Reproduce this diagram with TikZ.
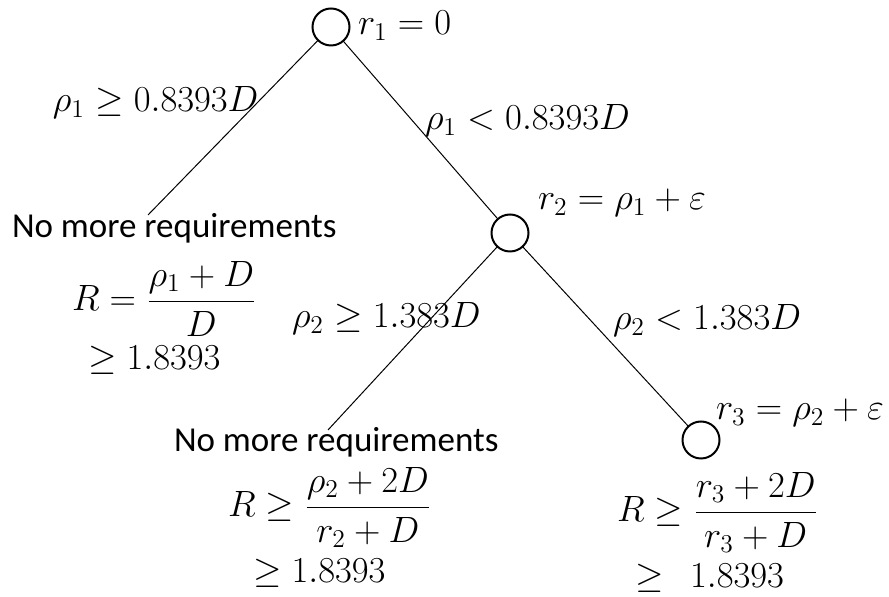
\RequirePackage{fix-cm}
\documentclass[tikz,border=0pt]{standalone}
\usepackage{fontspec}
\setmainfont{Carlito}
\begin{document}
\begin{tikzpicture}[x=0.5pt,y=-0.5pt,
  every node/.style={inner sep=0pt, outer sep=0pt},
  mth/.style={anchor=base west, font=\fontsize{18.3}{22}\selectfont},
  txt/.style={anchor=base west, font=\fontsize{17.5}{21}\selectfont},
  state/.style={circle, draw, line width=1pt, minimum size=18.5pt},
  branch/.style={line width=0.5pt}]
\useasboundingbox (0,0) rectangle (889,597);
% decision nodes
\node[state] (c1) at (331,27) {};
\node[state] (c2) at (510,233) {};
\node[state] (c3) at (701,440) {};
\coordinate (e1) at (148,215);
\coordinate (e2) at (328,430);
% branches
\draw[branch] (c1) -- (e1);
\draw[branch] (c1) -- (c2);
\draw[branch] (c2) -- (e2);
\draw[branch] (c2) -- (c3);
% node labels
\node[mth] (r1) at (358,35) {$r_1 = 0$};
\node[mth] (r2) at (538,210) {$r_2 = \rho_1 + \varepsilon$};
\node[mth] (r3) at (716,420) {$r_3 = \rho_2 + \varepsilon$};
% branch labels
\node[mth] (l1) at (53,112) {$\rho_1 \geq 0.8393D$};
\node[mth] (l2) at (425,130) {$\rho_1 < 0.8393D$};
\node[mth] (l3) at (292,328) {$\rho_2 \geq 1.383D$};
\node[mth] (l4) at (613,330) {$\rho_2 < 1.383D$};
% leaf 1
\node[txt] (t1) at (12,238) {No more requirements};
\node[mth] (f1) at (72,311) {$\displaystyle R = \frac{\rho_1 + D}{D}$};
\node[mth] (g1) at (88,370) {$\geq 1.8393$};
% leaf 2
\node[txt] (t2) at (174,452) {No more requirements};
\node[mth] (f2) at (228,517) {$\displaystyle R \geq \frac{\rho_2 + 2D}{r_2 + D}$};
\node[mth] (g2) at (253,583) {$\geq 1.8393$};
% leaf 3
\node[mth] (f3) at (617,522) {$\displaystyle R \geq \frac{r_3 + 2D}{r_3 + D}$};
\node[mth] (g3) at (635,588) {$\geq\ \ 1.8393$};
\end{tikzpicture}
\end{document}
